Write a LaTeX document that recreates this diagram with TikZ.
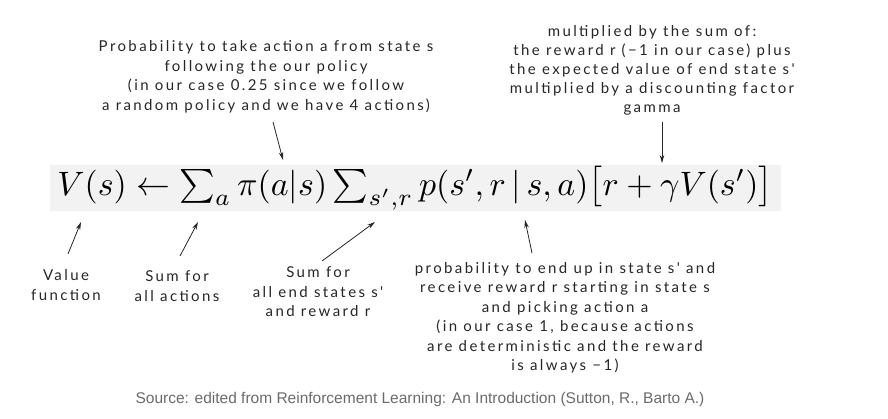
\documentclass[tikz,border=0pt]{standalone}
\usepackage{fontspec}
\setmainfont{Liberation Sans}
\newfontfamily\handfont[LetterSpace=16]{Lato}
\usepackage{amsmath}
\usepackage{graphicx}
\usepackage{xcolor}
\definecolor{eqBack}{HTML}{F2F2F2}
\definecolor{srcGray}{HTML}{6B6B6B}
\usetikzlibrary{arrows.meta, positioning}

\begin{document}
\begin{tikzpicture}[
		x=1pt, y=-1pt,
		note/.style={align=center, inner sep=0pt, text=black!85, font=\handfont\fontsize{15}{19.5}\selectfont},
		ptr/.style={-{Stealth[length=8pt, width=4.5pt]}, line width=0.8pt, black!85},
		>=Stealth
	]
		\useasboundingbox (0,0) rectangle (888,418);

		% ===== Equation =====
		\node[fill=eqBack, minimum width=731pt, minimum height=46pt, inner sep=0pt] (eq) at (415, 188)
			  {\resizebox{715pt}{!}{$V(s) \leftarrow \sum_a \pi(a|s) \sum_{s',r} p(s',r\,|\,s,a)\bigl[r+\gamma V(s')\bigr]$}};

		% Tips on the equation
		\coordinate (tipPi) at (283, 160);
		\coordinate (tipGam) at (662, 163);
		\coordinate (tipV) at (81, 222);
		\coordinate (tipSa) at (198, 222);
		\coordinate (tipSs) at (375, 222);
		\coordinate (tipP) at (525, 220);

		% ===== Notes above =====
		\node[note] (policy) at (266, 77) {Probability to take action a from state s\\following the our policy\\(in our case 0.25 since we follow\\a random policy and we have 4 actions)};
		\node[note, font=\handfont\fontsize{15}{19}\selectfont] (gamma) at (652, 70) {multiplied by the sum of:\\the reward r (−1 in our case) plus\\the expected value of end state s'\\multiplied by a discounting factor\\gamma};

		\draw[ptr] (273, 122) -- (tipPi);
		\draw[ptr] (662, 122) -- (tipGam);

		% ===== Notes below =====
		\node[note] (valFn) at (66, 285) {Value\\function};
		\node[note] (sumAct) at (177, 286) {Sum for\\all actions};
		\node[note] (sumEnd) at (318, 292) {Sum for\\all end states s'\\and reward r};
		\node[note] (prob) at (565, 318) {probability to end up in state s' and\\receive reward r starting in state s\\and picking action a\\(in our case 1, because actions\\are deterministic and the reward\\is always −1)};

		\draw[ptr] (68, 254) -- (tipV);
		\draw[ptr] (180, 256) -- (tipSa);
		\draw[ptr] (322, 261) -- (tipSs);
		\draw[ptr] (532, 253) -- (tipP);

		% Source
		\node[text=srcGray, font=\fontsize{15.5}{18}\selectfont] (src) at (420, 399) {Source: edited from Reinforcement Learning: An Introduction (Sutton, R., Barto A.)};
	\end{tikzpicture}
\end{document}
